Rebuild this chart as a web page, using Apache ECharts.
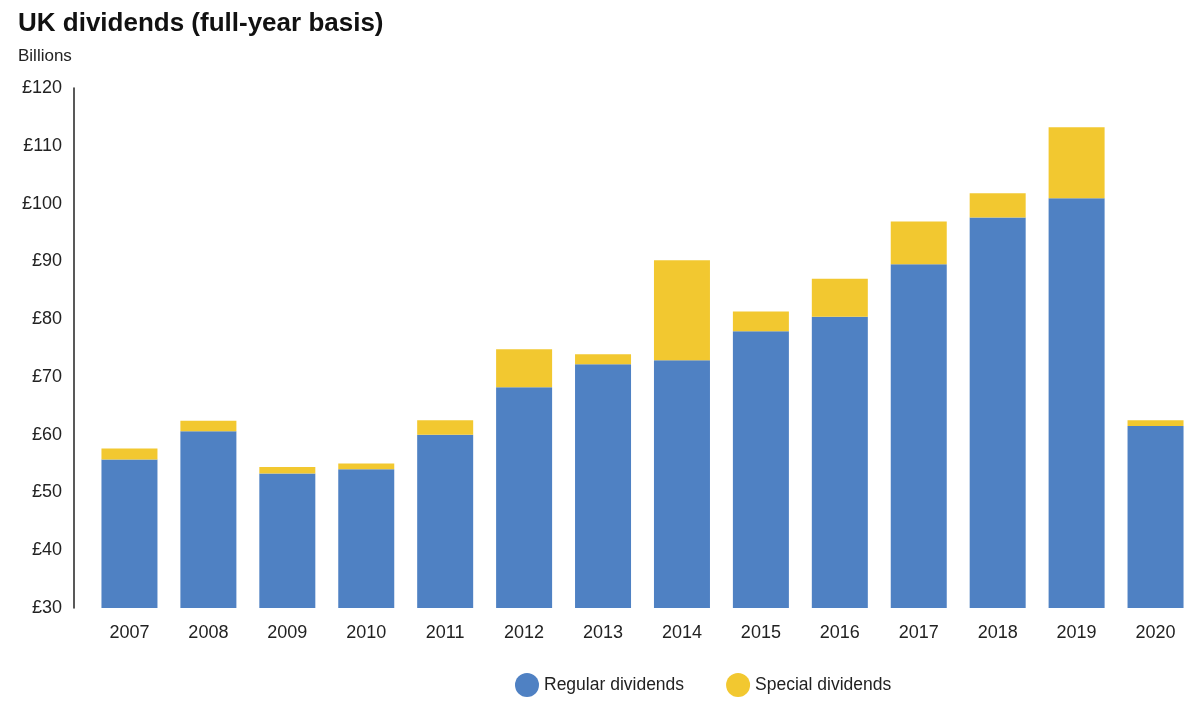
<!DOCTYPE html>
<html>
<head>
<meta charset="utf-8">
<script src="https://cdn.jsdelivr.net/npm/echarts@6/dist/echarts.min.js"></script>
<style>
  html, body { margin: 0; padding: 0; background: #fff; }
  #chart { width: 1200px; height: 711px; }
</style>
</head>
<body>
<div id="chart"></div>
<script>
// data (billions of pounds)
const years = ['2007', '2008', '2009', '2010', '2011', '2012', '2013', '2014', '2015', '2016', '2017', '2018', '2019', '2020'];
const regular = [55.7, 60.6, 53.3, 54.0, 60.0, 68.2, 72.2, 72.9, 77.9, 80.4, 89.5, 97.6, 100.9, 61.5];
const special = [1.9, 1.8, 1.1, 1.0, 2.5, 6.6, 1.7, 17.3, 3.4, 6.6, 7.4, 4.2, 12.3, 1.0];
const yTicks = [30, 120, 10]; // min, max, step

const FONT = '"Liberation Sans", Arial, sans-serif';

let chart = echarts.init(document.getElementById('chart'), null, { renderer: 'canvas' });

chart.setOption({
    backgroundColor: '#fff',
    textStyle: { fontFamily: FONT },
    title: [
        {
            text: 'UK dividends (full-year basis)',
            left: 13, top: 6,
            textStyle: { fontFamily: FONT, fontSize: 26, fontWeight: 'bold', color: '#111' }
        },
        {
            text: 'Billions',
            left: 13, top: 43,
            textStyle: { fontFamily: FONT, fontSize: 17, fontWeight: 'normal', color: '#222' }
        }
    ],
    legend: {
        left: 510, top: 668,
        icon: 'circle',
        itemWidth: 24, itemHeight: 24,
        itemGap: 42,
        textStyle: { fontFamily: FONT, fontSize: 17.5, color: '#222' },
        data: ['Regular dividends', 'Special dividends']
    },
    grid: { left: 90, right: 5, top: 88, bottom: 103 },
    xAxis: {
        type: 'category',
        data: years,
        axisLine: { show: false },
        axisTick: { show: false },
        axisLabel: { fontFamily: FONT, fontSize: 18, color: '#222', margin: 16 }
    },
    yAxis: {
        type: 'value',
        min: yTicks[0], max: yTicks[1], interval: yTicks[2],
        offset: 16,
        axisLine: { show: true, lineStyle: { color: '#222', width: 1.5 } },
        axisTick: { show: false },
        splitLine: { show: false },
        axisLabel: {
            fontFamily: FONT, fontSize: 18, color: '#222', margin: 12,
            formatter: v => '£' + v
        }
    },
    series: [
        {
            name: 'Regular dividends',
            type: 'bar',
            stack: 'total',
            barWidth: 56,
            itemStyle: { color: '#4F81C3' },
            data: regular
        },
        {
            name: 'Special dividends',
            type: 'bar',
            stack: 'total',
            barWidth: 56,
            itemStyle: { color: '#F2C830' },
            data: special
        }
    ]
});
</script>
</body>
</html>
